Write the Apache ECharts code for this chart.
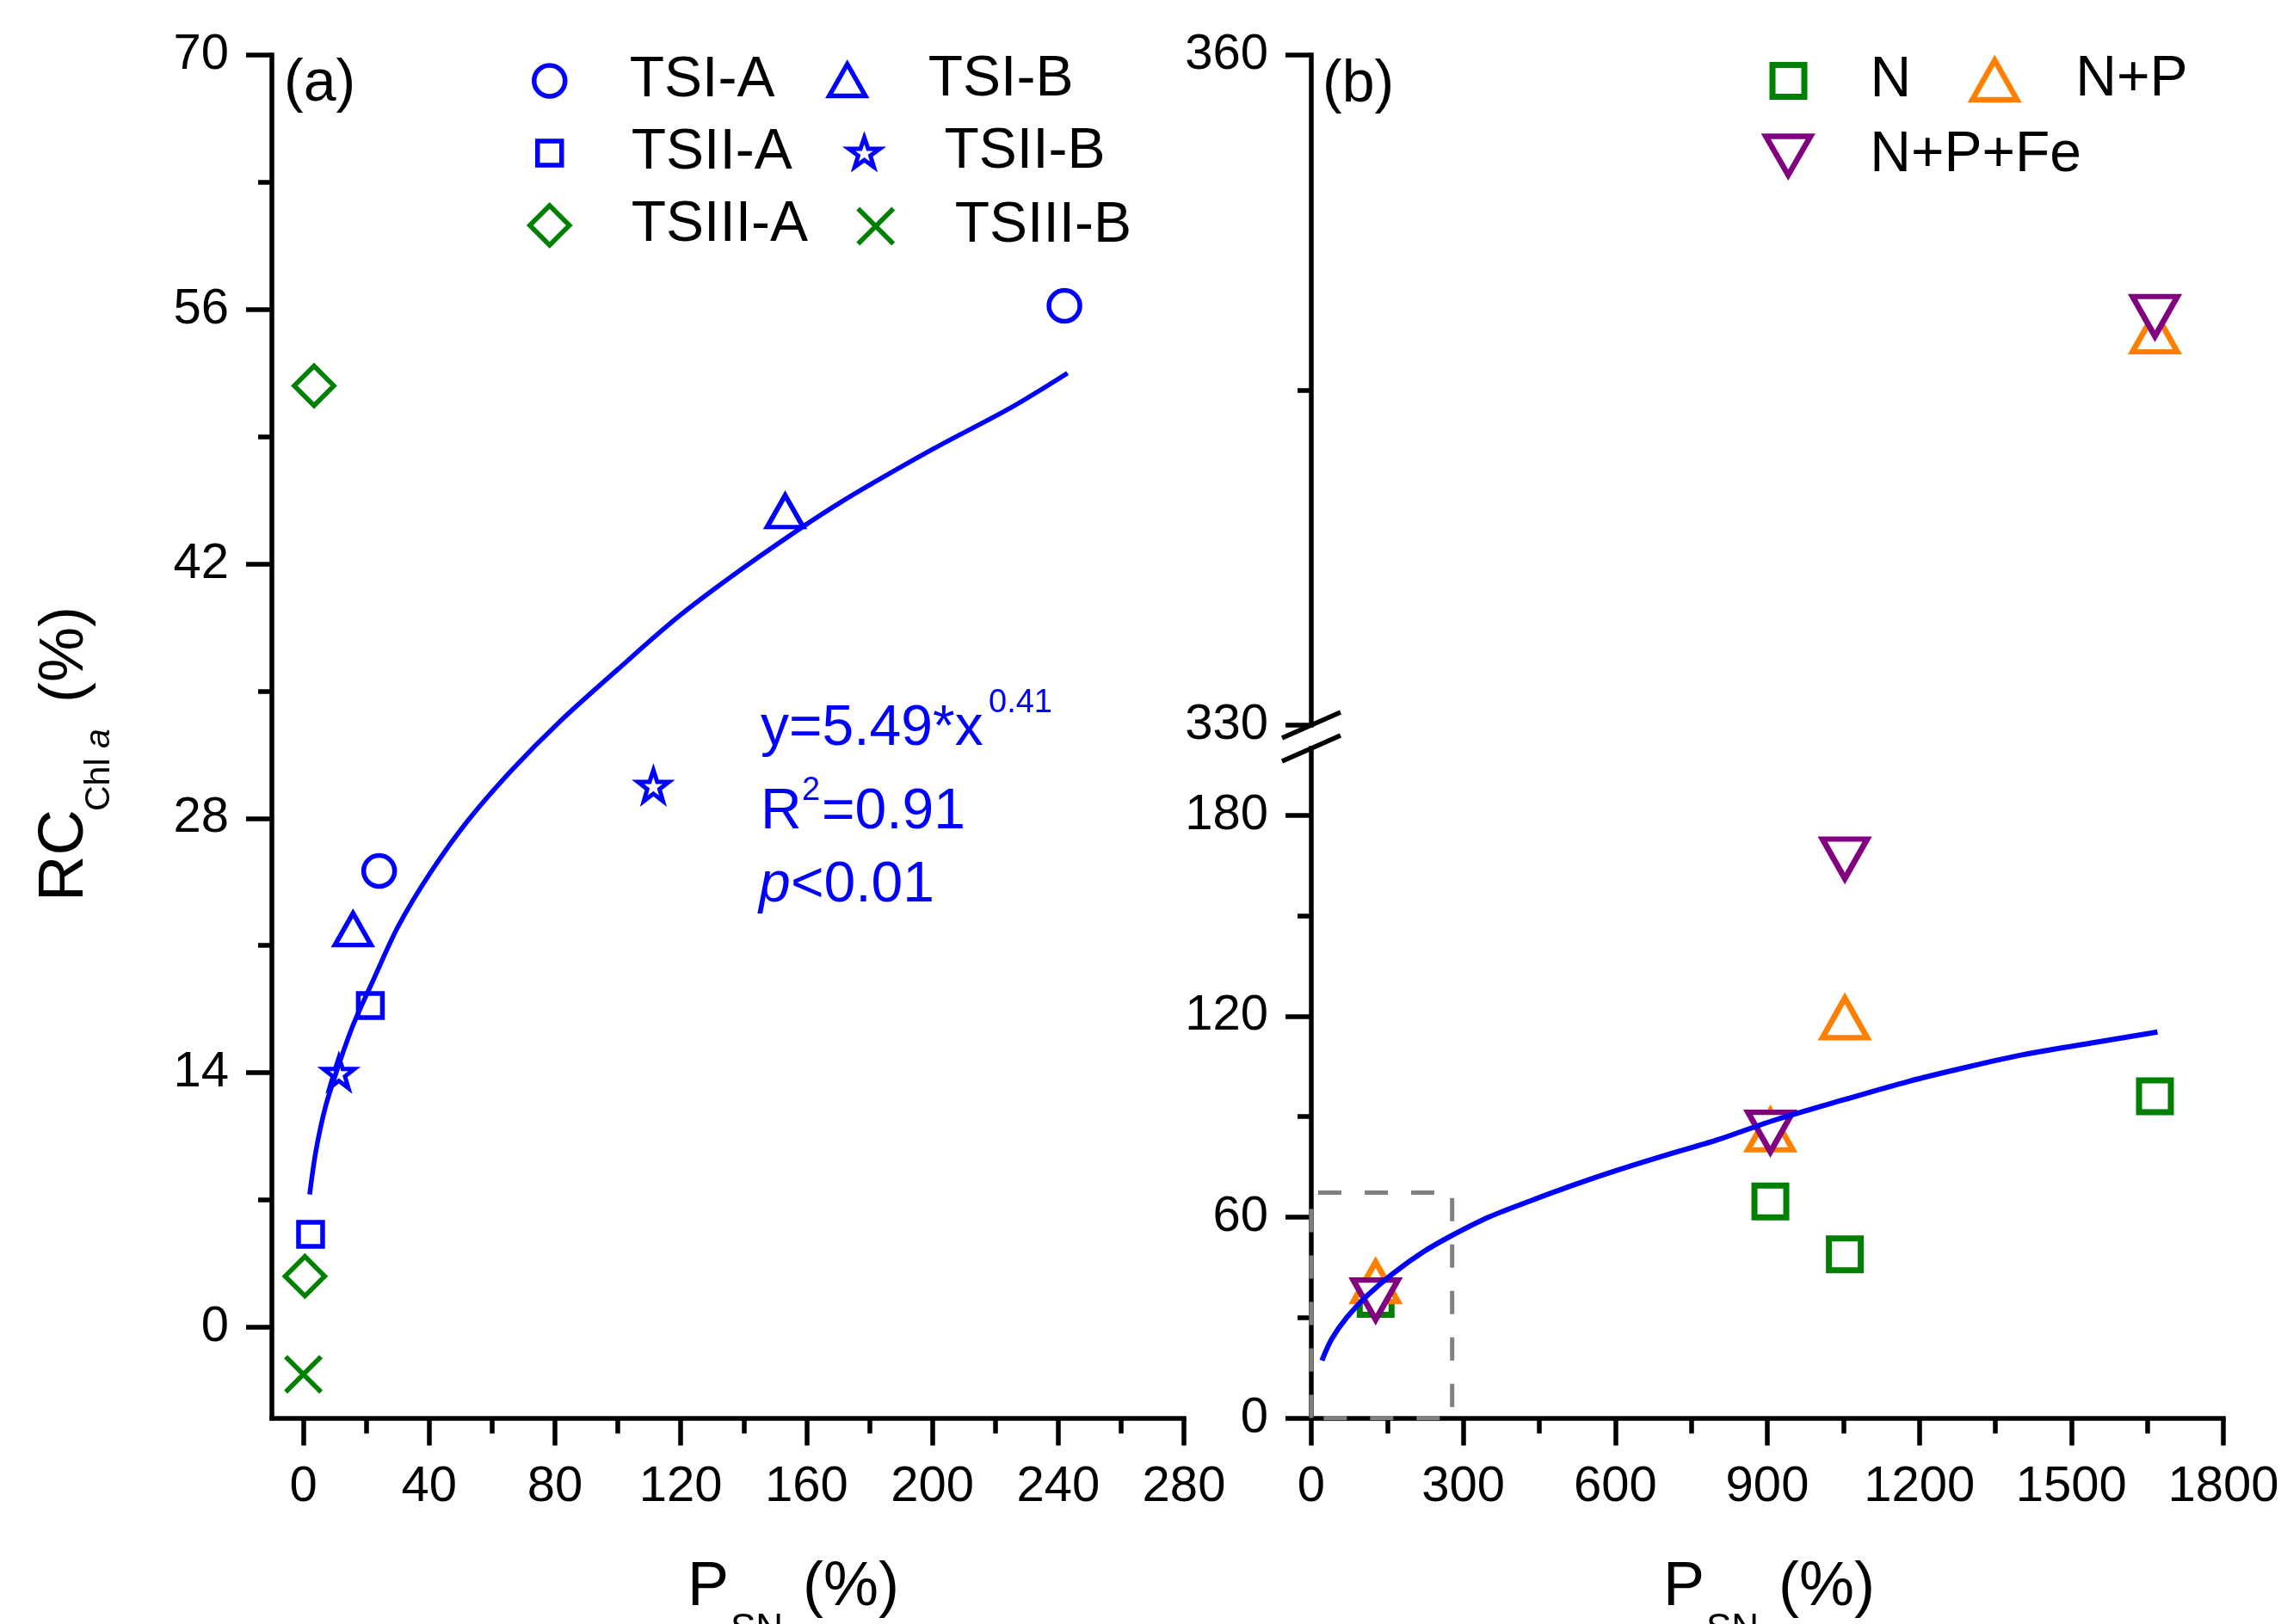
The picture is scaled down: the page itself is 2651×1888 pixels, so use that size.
<!DOCTYPE html>
<html><head><meta charset="utf-8">
<script src="https://cdn.jsdelivr.net/npm/echarts@6/dist/echarts.min.js"></script>
<style>html,body{margin:0;padding:0;background:#fff}#c{width:2651px;height:1888px}</style>
</head><body><div id="c"></div>
<script>
// ---------- Panel (a) ----------
const xTicksA = [0, 40, 80, 120, 160, 200, 240, 280];
const xMinorA = [20, 60, 100, 140, 180, 220, 260];
const yTicksA = [0, 14, 28, 42, 56, 70];
const yMinorA = [7, 21, 35, 49, 63];

const tsiA_x = [242.0, 24.1];    const tsiA_y = [56.2, 25.1];
const tsiB_x = [153.2, 15.8];    const tsiB_y = [44.9, 21.9];
const tsiiA_x = [21.3, 2.3];     const tsiiA_y = [17.7, 5.1];
const tsiiB_x = [111.3, 11.3];   const tsiiB_y = [29.8, 14.0];
const tsiiiA_x = [3.4, 0.5];     const tsiiiA_y = [51.8, 2.8];
const tsiiiB_x = [0.0];          const tsiiiB_y = [-2.6];

// fitted curve of panel (a)
const fitA_x = [2, 4, 7, 11, 16, 22, 30, 40, 52, 66, 82, 100, 120, 145, 170, 200, 225, 243];
const fitA_y = [7.3, 9.7, 12.1, 14.3, 16.7, 19.0, 22.0, 24.9, 27.8, 30.6, 33.4, 36.2, 39.2, 42.4, 45.3, 48.3, 50.6, 52.5];

// ---------- Panel (b) ----------
const xTicksB = [0, 300, 600, 900, 1200, 1500, 1800];
const xMinorB = [150, 450, 750, 1050, 1350, 1650];
const yTicksBLow = [0, 60, 120, 180];
const yMinorBLow = [30, 90, 150];
const yTicksBHigh = [330, 360];
const yMinorBHigh = [345];

const trt_x = [127, 906, 1053, 1665];
const n_y = [35.6, 64.7, 48.9, 96.1];
const np_y = [40.7, 86.0, 119.5, 347.6];
const npfe_y = [35.3, 85.4, 167.0, 348.3];

// fitted curve of panel (b)
const fitB_x = [21, 40, 70, 110, 160, 220, 276, 350, 435, 520, 604, 700, 800, 909, 1050, 1178, 1300, 1405, 1540, 1670];
const fitB_y = [17.2, 23.5, 30.0, 36.5, 43.0, 49.5, 54.4, 60.0, 65.0, 69.7, 74.0, 78.5, 83.0, 88.7, 95.0, 100.5, 105.0, 108.5, 112.0, 115.3];

// dashed inset box (panel a range) in panel b coords
const insetX = [0, 278];
const insetY = [0, 67.3];
const breakLow = 200, breakHigh = 330;

// ---------- helpers ----------
const FONT = 'Liberation Sans';
const BLUE = '#0000FF', GREEN = '#008000', ORANGE = '#FF8000', PURPLE = '#800080';
const zip = (xs, ys) => xs.map((x, i) => [x, ys[i]]);
const STAR = 'path://M50,0 L61.8,34.5 L97.6,34.5 L68.8,55.9 L79.4,90.5 L50,69.1 L20.6,90.5 L31.2,55.9 L2.4,34.5 L38.2,34.5 Z';
const XMARK = 'path://M0,0 L10,10 M10,0 L0,10';
const INVTRI = 'path://M0,0 L10,0 L5,8.66 Z';

function axis(dim, opt) {
  return {
    type: 'value', gridIndex: opt.grid, min: opt.min, max: opt.max,
    position: dim === 'x' ? 'bottom' : 'left',
    splitLine: { show: false },
    axisLine: { show: !!opt.line, onZero: false, lineStyle: { color: '#000', width: 5.5, cap: 'square' } },
    axisTick: { show: !!opt.ticks, inside: false, length: opt.len || 32,
      lineStyle: { color: '#000', width: 5.5 }, customValues: opt.ticks || [] },
    axisLabel: { show: !!opt.labels, customValues: opt.labels || [], margin: dim === 'x' ? 51 : 50,
      fontSize: 58, color: '#000', fontFamily: FONT, formatter: v => String(v) },
    show: opt.show !== false
  };
}

const xAxes = [
  axis('x', { grid: 0, min: -10, max: 280, line: true, ticks: xTicksA, labels: xTicksA, len: 32 }),
  axis('x', { grid: 0, min: -10, max: 280, ticks: xMinorA, len: 18 }),
  axis('x', { grid: 2, min: 0, max: 1800, line: true, ticks: xTicksB, labels: xTicksB, len: 32 }),
  axis('x', { grid: 2, min: 0, max: 1800, ticks: xMinorB, len: 18 }),
  axis('x', { grid: 1, min: 0, max: 1800, show: false })
];
const yAxes = [
  axis('y', { grid: 0, min: -5, max: 70, line: true, ticks: yTicksA, labels: yTicksA, len: 30 }),
  axis('y', { grid: 0, min: -5, max: 70, ticks: yMinorA, len: 16 }),
  axis('y', { grid: 1, min: breakHigh, max: 360, line: true, ticks: yTicksBHigh, labels: yTicksBHigh, len: 30 }),
  axis('y', { grid: 1, min: breakHigh, max: 360, ticks: yMinorBHigh, len: 16 }),
  axis('y', { grid: 2, min: 0, max: breakLow, line: true, ticks: yTicksBLow, labels: yTicksBLow, len: 30 }),
  axis('y', { grid: 2, min: 0, max: breakLow, ticks: yMinorBLow, len: 16 })
];

function sc(name, xs, ys, symbol, size, color, xi, yi, bw) {
  return {
    type: 'scatter', name, xAxisIndex: xi, yAxisIndex: yi, data: zip(xs, ys),
    symbol, symbolSize: size, silent: true, emphasis: { disabled: true },
    itemStyle: { color: '#fff', borderColor: color, borderWidth: bw, opacity: 1 }
  };
}
function split(xs, ys, upper) {
  const ox = [], oy = [];
  xs.forEach((x, i) => { if ((ys[i] > breakLow) === upper) { ox.push(x); oy.push(ys[i]); } });
  return [ox, oy];
}

const series = [
  { type: 'line', data: zip(fitA_x, fitA_y), xAxisIndex: 0, yAxisIndex: 0, smooth: 0.3,
    symbol: 'none', silent: true, lineStyle: { color: BLUE, width: 5.5 } },
  sc('TSI-A', tsiA_x, tsiA_y, 'circle', 36, BLUE, 0, 0, 5.5),
  sc('TSI-B', tsiB_x, tsiB_y, 'triangle', [42, 37], BLUE, 0, 0, 5.5),
  sc('TSII-A', tsiiA_x, tsiiA_y, 'rect', 28, BLUE, 0, 0, 5.5),
  sc('TSII-B', tsiiB_x, tsiiB_y, STAR, 36, BLUE, 0, 0, 5),
  sc('TSIII-A', tsiiiA_x, tsiiiA_y, 'diamond', 46, GREEN, 0, 0, 5.5),
  sc('TSIII-B', tsiiiB_x, tsiiiB_y, XMARK, 41, GREEN, 0, 0, 5.5),
  { type: 'line', data: zip(fitB_x, fitB_y), xAxisIndex: 2, yAxisIndex: 4, smooth: 0.3,
    symbol: 'none', silent: true, lineStyle: { color: BLUE, width: 6 } },
  { type: 'line', xAxisIndex: 2, yAxisIndex: 4, clip: false, symbol: 'none', silent: true,
    data: [[insetX[0], insetY[0]], [insetX[0], insetY[1]], [insetX[1], insetY[1]], [insetX[1], insetY[0]], [insetX[0], insetY[0]]],
    lineStyle: { color: '#808080', width: 5, type: [27, 27] } },
];
(function () {
  const lowN = split(trt_x, n_y, false);
  series.push(sc('N', lowN[0], lowN[1], 'rect', 37, GREEN, 2, 4, 7));
  const lowNP = split(trt_x, np_y, false), hiNP = split(trt_x, np_y, true);
  series.push(sc('N+P', lowNP[0], lowNP[1], 'triangle', [52, 46], ORANGE, 2, 4, 6.5));
  series.push(sc('N+P', hiNP[0], hiNP[1], 'triangle', [52, 46], ORANGE, 4, 2, 6.5));
  const lowF = split(trt_x, npfe_y, false), hiF = split(trt_x, npfe_y, true);
  series.push(sc('N+P+Fe', lowF[0], lowF[1], INVTRI, [52, 46], PURPLE, 2, 4, 6.5));
  series.push(sc('N+P+Fe', hiF[0], hiF[1], INVTRI, [52, 46], PURPLE, 4, 2, 6.5));
})();

function leg(name, cx, cy, w, h, textX, bw) {
  const left = cx - w / 2;
  return {
    data: [name], left: left, top: cy - 33, padding: 0, itemWidth: w, itemHeight: h,
    selectedMode: false, itemStyle: { borderWidth: bw },
    textStyle: { fontSize: 66, fontFamily: FONT, color: '#000', lineHeight: 66,
      padding: [0, 0, 0, textX - left - w - 5] }
  };
}
const legends = [
  leg('TSI-A', 636, 94, 36, 36, 729, 5.5),
  leg('TSI-B', 982, 93, 42, 37, 1076, 5.5),
  leg('TSII-A', 636, 178, 28, 28, 731, 5.5),
  leg('TSII-B', 1002, 177, 36, 36, 1095, 5),
  leg('TSIII-A', 636, 262, 46, 46, 731, 5.5),
  leg('TSIII-B', 1015, 263, 41, 41, 1107, 5.5),
  leg('N', 2075, 94, 37, 37, 2170, 7),
  leg('N+P', 2315, 93, 52, 46, 2409, 6.5),
  leg('N+P+Fe', 2075, 181, 52, 46, 2170, 6.5)
];

function txt(text, x, y, size, color, extra) {
  return { type: 'text', silent: true, style: Object.assign({ text, x, y, fontSize: size, fontFamily: FONT,
    fill: color || '#000', align: 'left', verticalAlign: 'middle' }, extra || {}) };
}

const chart = echarts.init(document.getElementById('c'), null, { renderer: 'canvas' });
chart.setOption({
  animation: false,
  backgroundColor: '#ffffff',
  textStyle: { fontFamily: FONT },
  grid: [
    { left: 316, top: 64, width: 1060, height: 1584.5, outerBoundsMode: 'none', containLabel: false },
    { left: 1524, top: 64, width: 1060, height: 779, outerBoundsMode: 'none', containLabel: false },
    { left: 1524, top: 870, width: 1060, height: 778.5, outerBoundsMode: 'none', containLabel: false }
  ],
  xAxis: xAxes,
  yAxis: yAxes,
  legend: legends,
  series: series
});

const pHigh = chart.convertToPixel({ xAxisIndex: 4, yAxisIndex: 2 }, [0, breakHigh]);
const pLow = chart.convertToPixel({ xAxisIndex: 2, yAxisIndex: 4 }, [0, breakLow]);
function slash(p) {
  return { type: 'line', silent: true, shape: { x1: p[0] - 34, y1: p[1] + 15, x2: p[0] + 34, y2: p[1] - 15 },
    style: { stroke: '#000', lineWidth: 5.5 } };
}

const graphics = [
  txt('(a)', 330, 98, 68),
  txt('(b)', 1537, 99, 68),
  txt('y=5.49*x', 884, 848, 66, BLUE),
  txt('0.41', 1149, 818, 38, BLUE),
  txt('R', 884, 945, 66, BLUE),
  txt('2', 932, 920, 38, BLUE),
  txt('=0.91', 955, 945, 66, BLUE),
  txt('p', 882, 1030, 66, BLUE, { fontStyle: 'italic' }),
  txt('<0.01', 919, 1030, 66, BLUE),
  txt('P', 799, 1846, 72), txt('SN', 849, 1895, 44), txt('(%)', 933, 1846, 72),
  txt('P', 1933, 1846, 72), txt('SN', 1983, 1895, 44), txt('(%)', 2067, 1846, 72),
  { type: 'group', x: 100, y: 1048, rotation: Math.PI / 2, silent: true, children: [
    txt('RC', 0, -24, 74),
    txt('Chl ', 105, 16, 41),
    txt('a', 178, 16, 41, '#000', { fontStyle: 'italic' }),
    txt('(%)', 231, -24, 72)
  ] },
  slash(pHigh), slash(pLow)
];
chart.setOption({ graphic: graphics });
</script>
</body></html>
